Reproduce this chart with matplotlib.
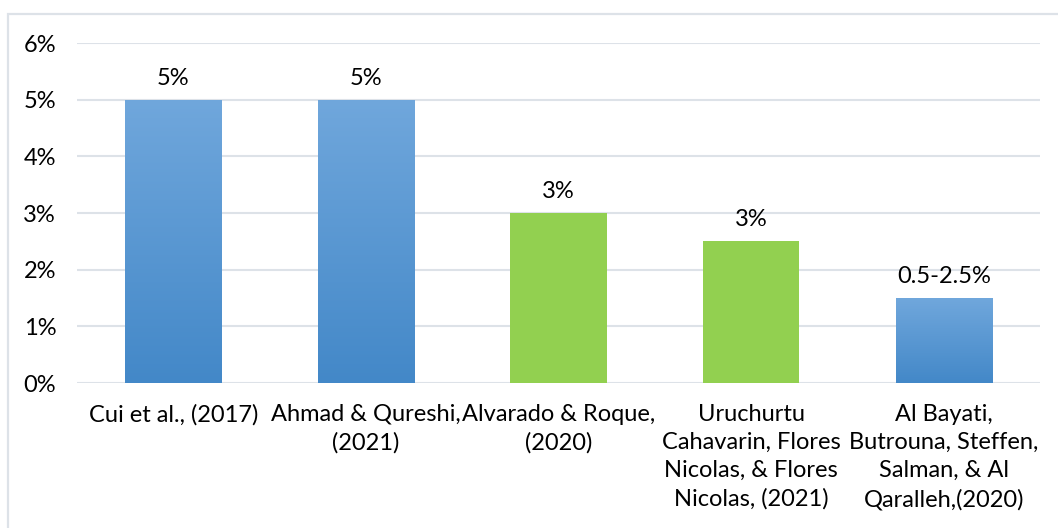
import matplotlib
matplotlib.use("Agg")
import matplotlib.pyplot as plt
import numpy as np
from matplotlib.colors import LinearSegmentedColormap
from matplotlib.patches import Rectangle
from matplotlib.ticker import PercentFormatter

categories = [
    "Cui et al., (2017)",
    "Ahmad & Qureshi,\n(2021)",
    "Alvarado & Roque,\n(2020)",
    "Uruchurtu\nCahavarin, Flores\nNicolas, & Flores\nNicolas, (2021)",
    "Al Bayati,\nButrouna, Steffen,\nSalman, & Al\nQaralleh,(2020)",
]
values = [0.05, 0.05, 0.03, 0.025, 0.015]
value_labels = ["5%", "5%", "3%", "3%", "0.5-2.5%"]
kinds = ["blue", "blue", "green", "green", "blue"]

FS = 17
plt.rcParams['font.family'] = ['Lato', 'DejaVu Sans']
fig = plt.figure(figsize=(10.58, 5.28), dpi=100)
fig.patch.set_facecolor("white")
# outer chart border
fig.add_artist(Rectangle((8/1058, -0.05), 1.2, (1 - 14/528) + 0.05, transform=fig.transFigure,
                         fill=False, edgecolor="#dde2e8", linewidth=1.6))

ax = fig.add_axes([77/1058, 1 - 383/528, (1040 - 77)/1058, (383 - 43)/528])
x = np.arange(len(categories))
green = "#92d050"
grad = LinearSegmentedColormap.from_list("g", ["#4388c8", "#70a7dc"])
bars = ax.bar(x, values, width=0.5,
              color=[green if k == "green" else "none" for k in kinds],
              edgecolor="none", zorder=3)
for b, k in zip(bars, kinds):
    if k == "blue":
        x0, y0 = b.get_x(), b.get_y()
        w, h = b.get_width(), b.get_height()
        img = np.linspace(0, 1, 256).reshape(-1, 1)
        im = ax.imshow(img, cmap=grad, origin="lower", aspect="auto",
                       extent=(x0, x0 + w, y0, y0 + h), zorder=3)
        im.set_clip_path(b)
ax.set_xlim(-0.5, len(categories) - 0.5)
ax.set_ylim(0, 0.06)
ax.set_aspect("auto")

for b, lab in zip(bars, value_labels):
    ax.annotate(lab, (b.get_x() + b.get_width()/2, b.get_height()),
                xytext=(0, 8), textcoords="offset points",
                ha="center", va="bottom", fontsize=FS, color="#000000")

ax.set_yticks(np.arange(0, 0.061, 0.01))
ax.yaxis.set_major_formatter(PercentFormatter(1.0, decimals=0))
ax.set_xticks(x)
ax.set_xticklabels(categories, fontsize=FS, linespacing=1.42, va="top")
ax.tick_params(axis="y", labelsize=FS, length=0, pad=15)
ax.tick_params(axis="x", length=0, pad=15)
ax.grid(axis="y", color="#dde2e8", linewidth=1.5, zorder=0)
for s in ax.spines.values():
    s.set_visible(False)
ax.set_axisbelow(True)

fig.savefig("out.png", dpi=100, facecolor="white")
